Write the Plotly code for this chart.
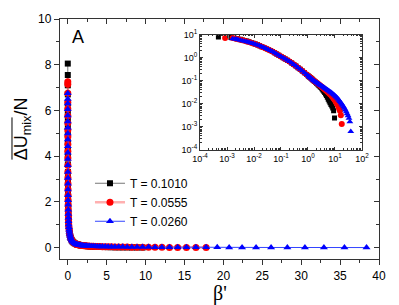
import plotly.graph_objects as go

# ---------------- data ----------------
beta_grid = [0.0031, 0.0037, 0.0045, 0.0054, 0.0065, 0.0078, 0.0093, 0.0112, 0.0134, 0.0161,
             0.0193, 0.0232, 0.0278, 0.0334, 0.040, 0.048, 0.058, 0.069, 0.083, 0.100,
             0.120, 0.144, 0.173, 0.207, 0.249, 0.299, 0.358, 0.430, 0.516, 0.619,
             0.743, 0.892, 1.03, 1.11, 1.20, 1.30, 1.40, 1.52, 1.64, 1.77,
             1.91, 2.06, 2.23, 2.41, 2.60, 2.81, 3.03, 3.27, 3.53, 3.82,
             4.12, 4.45, 4.81, 5.19, 5.61, 6.06, 6.54, 7.06, 7.63, 8.24,
             8.90, 9.61, 10.38, 11.21, 12.10, 13.07, 14.12, 15.25, 16.47, 17.78,
             19.21, 20.74, 22.40, 24.20, 26.13, 28.22, 30.48, 32.92, 35.56, 38.40]

black_head = [0.00048, 0.0014, 0.0019, 0.0024]
red_head = [0.00085, 0.0016, 0.0021, 0.0026]
blue_head = [0.0016, 0.0020, 0.0023, 0.0026]

black_beta = black_head + [b for b in beta_grid if b <= 9.61]
red_beta = red_head + [b for b in beta_grid if b <= 17.78]
blue_beta = blue_head + beta_grid

black_u = [8.05, 7.55, 7.10, 6.70,
           6.30, 5.96, 5.61, 5.29, 4.97, 4.61, 4.27, 3.96, 3.64,
           3.31, 3.04, 2.79, 2.54, 2.29, 2.07, 1.87, 1.65, 1.47, 1.30,
           1.148, 1.01, 0.889, 0.782, 0.687, 0.589, 0.505, 0.435, 0.371, 0.313,
           0.264, 0.222, 0.186, 0.161, 0.150, 0.138, 0.128, 0.119, 0.109,
           0.1007, 0.0927, 0.0853, 0.0785, 0.0720, 0.0661, 0.0605, 0.0551, 0.0505, 0.0453,
           0.0401, 0.0354, 0.0309, 0.0265, 0.0227, 0.0192, 0.0159, 0.0133, 0.0111, 0.00942,
           0.00794, 0.00661, 0.00501, 0.0024]

red_u = [7.25, 7.15, 6.75, 6.35,
         6.07, 5.77, 5.45, 5.14, 4.85, 4.52, 4.21, 3.92,
         3.60, 3.31, 3.04, 2.79, 2.54, 2.29, 2.07, 1.87, 1.65, 1.47, 1.30,
         1.148, 1.01, 0.889, 0.782, 0.687, 0.589, 0.505, 0.435, 0.371, 0.313,
         0.264, 0.222, 0.186, 0.161, 0.150, 0.138, 0.128, 0.119, 0.109,
         0.1014, 0.0948, 0.0885, 0.0826, 0.0771, 0.0718, 0.0670, 0.0625, 0.0585, 0.0543,
         0.0504, 0.0466, 0.0432, 0.0400, 0.0370, 0.0341, 0.0312, 0.0286, 0.0262, 0.0240,
         0.0213, 0.0190, 0.0169, 0.0150, 0.0131, 0.0112, 0.00964, 0.00798, 0.00631, 0.00501,
         0.00316, 0.00132]

blue_u = [6.75, 6.50, 6.30, 6.05,
          5.78, 5.52, 5.24, 4.99, 4.73, 4.43, 4.15, 3.88, 3.60,
          3.31, 3.04, 2.79, 2.54, 2.29, 2.07, 1.87, 1.65, 1.47, 1.30,
          1.148, 1.01, 0.889, 0.782, 0.687, 0.589, 0.505, 0.435, 0.371, 0.313,
          0.264, 0.222, 0.186, 0.161, 0.150, 0.138, 0.128, 0.119, 0.109,
          0.102, 0.0959, 0.0902, 0.0849, 0.0797, 0.0749, 0.0705, 0.0662, 0.0624, 0.0586,
          0.0552, 0.0518, 0.0488, 0.0459, 0.0431, 0.0406, 0.0381, 0.0358, 0.0337, 0.0317,
          0.0293, 0.0272, 0.0252, 0.0233, 0.0214, 0.0195, 0.0178, 0.0161, 0.0143, 0.0127,
          0.0112, 0.00989, 0.00865, 0.00748, 0.00638, 0.00542, 0.00453, 0.00369, 0.00303, 0.00233,
          0.00166, 0.00063]

series_names = ["T = 0.1010", "T = 0.0555", "T = 0.0260"]

inset_x_ticks = [1e-4, 1e-3, 1e-2, 1e-1, 1e0, 1e1, 1e2]
inset_x_labels = ["10<sup>-4</sup>", "10<sup>-3</sup>", "10<sup>-2</sup>", "10<sup>-1</sup>",
                  "10<sup>0</sup>", "10<sup>1</sup>", "10<sup>2</sup>"]
inset_y_ticks = [1e-4, 1e-3, 1e-2, 1e-1, 1e0, 1e1]
inset_y_labels = ["10<sup>-4</sup>", "10<sup>-3</sup>", "10<sup>-2</sup>", "10<sup>-1</sup>",
                  "10<sup>0</sup>", "10<sup>1</sup>"]

# ---------------- figure ----------------
FONT = "Liberation Sans, Arial, sans-serif"
AX = "#333333"

fig = go.Figure()

styles = [
    dict(x=black_beta, y=black_u, name=series_names[0], color="#000000",
         line=dict(color="#777777", width=1), symbol="square", size=6, isize=5),
    dict(x=red_beta, y=red_u, name=series_names[1], color="#ff0000",
         line=dict(color="rgba(255,80,80,0.45)", width=2.5), symbol="circle", size=7, isize=6),
    dict(x=blue_beta, y=blue_u, name=series_names[2], color="#0000ff",
         line=dict(color="#3344ff", width=1), symbol="triangle-up", size=7, isize=6),
]

for s in styles:
    fig.add_trace(go.Scatter(
        x=s["x"], y=s["y"], name=s["name"], mode="lines+markers",
        line=s["line"],
        marker=dict(symbol=s["symbol"], size=s["size"], color=s["color"], line=dict(width=0)),
        xaxis="x", yaxis="y"))

for s in styles:
    fig.add_trace(go.Scatter(
        x=s["x"], y=s["y"], mode="markers", showlegend=False,
        marker=dict(symbol=s["symbol"], size=s["isize"], color=s["color"], line=dict(width=0)),
        xaxis="x2", yaxis="y2"))

# invisible trace to create the mirror-tick overlay axes
fig.add_trace(go.Scatter(x=blue_beta[-1:], y=blue_u[-1:], mode="markers",
                         marker=dict(opacity=0), showlegend=False, hoverinfo="skip",
                         xaxis="x3", yaxis="y3"))

xr = [-1, 40]
yr = [-0.5, 10]

fig.update_layout(
    width=399, height=305,
    margin=dict(l=60, r=20, t=15, b=46),
    paper_bgcolor="white", plot_bgcolor="white",
    font=dict(family=FONT, size=12, color="black"),
    showlegend=True,
    legend=dict(x=0.094, y=0.376, xanchor="left", yanchor="top",
                bgcolor="rgba(0,0,0,0)", font=dict(size=12, family=FONT),
                tracegroupgap=0, itemwidth=30),
    xaxis=dict(domain=[0, 1], range=xr, showgrid=False, zeroline=False,
               showline=True, linecolor=AX, linewidth=1.3, mirror=True,
               ticks="outside", ticklen=5, tickcolor=AX, tickwidth=1,
               dtick=5, tick0=0, tickfont=dict(size=12),
               minor=dict(ticks="outside", ticklen=3, dtick=2.5, tick0=0, tickcolor=AX)),
    yaxis=dict(domain=[0, 1], range=yr, showgrid=False, zeroline=False,
               showline=True, linecolor=AX, linewidth=1.3, mirror=True,
               ticks="outside", ticklen=5, tickcolor=AX, tickwidth=1,
               dtick=2, tick0=0, tickfont=dict(size=12),
               minor=dict(ticks="outside", ticklen=3, dtick=1, tick0=0, tickcolor=AX)),
    xaxis3=dict(overlaying="x", side="top", anchor="y", range=xr, showgrid=False,
                zeroline=False, showticklabels=False, ticks="inside", ticklen=5,
                tickcolor=AX, dtick=5, tick0=0,
                minor=dict(ticks="inside", ticklen=3, dtick=2.5, tick0=0, tickcolor=AX)),
    yaxis3=dict(overlaying="y", side="right", anchor="x", range=yr, showgrid=False,
                zeroline=False, showticklabels=False, ticks="inside", ticklen=5,
                tickcolor=AX, dtick=2, tick0=0,
                minor=dict(ticks="inside", ticklen=3, dtick=1, tick0=0, tickcolor=AX)),
    xaxis2=dict(domain=[0.4389, 0.9467], anchor="y2", type="log", range=[-4, 2],
                showgrid=False, zeroline=False, showline=True, linecolor=AX, linewidth=1,
                mirror="ticks", ticks="inside", ticklen=3, tickcolor=AX,
                tickvals=inset_x_ticks, ticktext=inset_x_labels, tickfont=dict(size=9),
                minor=dict(ticks="inside", ticklen=1.5, dtick="D1", tickcolor=AX)),
    yaxis2=dict(domain=[0.4549, 0.9344], anchor="x2", type="log", range=[-4, 1],
                showgrid=False, zeroline=False, showline=True, linecolor=AX, linewidth=1,
                mirror="ticks", ticks="inside", ticklen=3, tickcolor=AX,
                tickvals=inset_y_ticks, ticktext=inset_y_labels, tickfont=dict(size=9),
                minor=dict(ticks="inside", ticklen=1.5, dtick="D1", tickcolor=AX)),
)

# panel label
fig.add_annotation(text="A", xref="paper", yref="paper", x=0.055, y=0.925,
                   showarrow=False, font=dict(size=18, family=FONT),
                   xanchor="center", yanchor="middle")
# axis titles
fig.add_annotation(text="\u03b2'", xref="paper", yref="paper", x=0.5, y=-0.09,
                   showarrow=False, borderpad=0,
                   font=dict(size=20, family="Liberation Serif, Times New Roman, serif"),
                   xanchor="center", yanchor="top")
fig.add_annotation(text="\u0394U<sub>mix</sub>/N", xref="paper", yref="paper",
                   x=-0.119, y=0.541, textangle=-90, showarrow=False,
                   font=dict(size=18, family=FONT), xanchor="center", yanchor="middle")
# overline of the mean
fig.add_shape(type="line", xref="paper", yref="paper",
              x0=-0.1505, x1=-0.1505, y0=0.590, y1=0.414,
              line=dict(color="black", width=1))

fig.write_html("out.html", config={"displayModeBar": False},
               post_script="document.body.style.margin='0';")
